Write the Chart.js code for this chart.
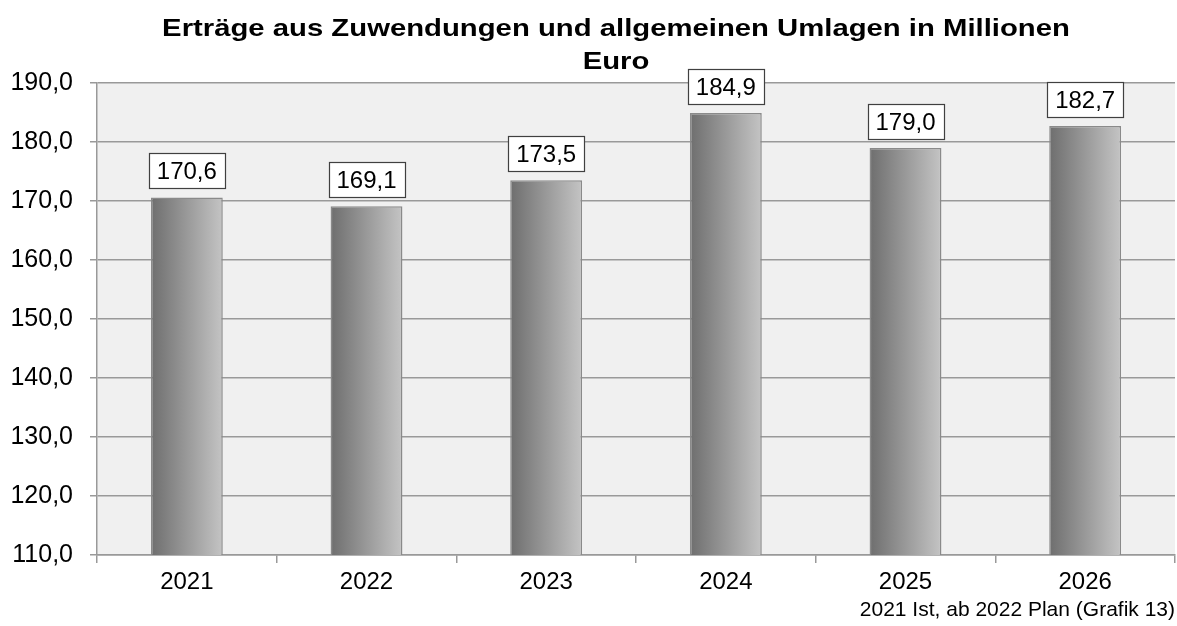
<!DOCTYPE html>
<html>
<head>
<meta charset="utf-8">
<script src="https://cdn.jsdelivr.net/npm/chart.js@4.4.1/dist/chart.umd.min.js"></script>
<style>
  html, body { margin: 0; padding: 0; background: #ffffff; }
  #wrap { width: 1177px; height: 626px; position: relative; }
</style>
</head>
<body>
<div id="wrap"><canvas id="c" width="1177" height="626"></canvas></div>
<script>
const categories = ['2021', '2022', '2023', '2024', '2025', '2026'];
const values = [170.6, 169.1, 173.5, 184.9, 179.0, 182.7];
const titleLines = ['Erträge aus Zuwendungen und allgemeinen Umlagen in Millionen', 'Euro'];
const footnote = '2021 Ist, ab 2022 Plan (Grafik 13)';
const yMin = 110, yMax = 190, yStep = 10;

const FONT = '"Liberation Sans", Arial, sans-serif';
const fmt = v => v.toFixed(1).replace('.', ',');

const bgPlugin = {
  id: 'plotBg',
  beforeDraw(chart) {
    const a = chart.chartArea, ctx = chart.ctx;
    ctx.save();
    ctx.fillStyle = '#f0f0f0';
    ctx.fillRect(a.left, a.top, a.right - a.left, a.bottom - a.top);
    ctx.restore();
  }
};

const titlePlugin = {
  id: 'customTitle',
  afterDraw(chart) {
    const ctx = chart.ctx;
    ctx.save();
    ctx.translate(616, 0);
    ctx.scale(1.22, 1);
    ctx.font = 'bold 24px ' + FONT;
    ctx.fillStyle = '#000';
    ctx.textAlign = 'center';
    ctx.textBaseline = 'alphabetic';
    ctx.fillText(titleLines[0], 0, 36);
    ctx.fillText(titleLines[1], 0, 69);
    ctx.restore();
  }
};

const labelPlugin = {
  id: 'valueBoxes',
  afterDatasetsDraw(chart) {
    const ctx = chart.ctx;
    const meta = chart.getDatasetMeta(0);
    ctx.save();
    ctx.font = '24px ' + FONT;
    ctx.textAlign = 'center';
    ctx.textBaseline = 'middle';
    meta.data.forEach((bar, i) => {
      const txt = fmt(values[i]);
      const w = 76;
      const h = 35;
      const bottom = bar.y - 9;
      const x0 = Math.round(bar.x - w / 2) + 0.5, y0 = Math.round(bottom - h) + 0.5;
      ctx.fillStyle = '#ffffff';
      ctx.fillRect(x0, y0, w, h);
      ctx.strokeStyle = '#404040';
      ctx.lineWidth = 1.2;
      ctx.strokeRect(x0, y0, w, h);
      ctx.fillStyle = '#000';
      ctx.fillText(txt, bar.x, y0 + h / 2 + 1);
    });
    ctx.restore();
  }
};

function barGradient(context) {
  const chart = context.chart;
  const xs = chart.scales && chart.scales.x;
  if (!chart.chartArea || !xs) return '#999';
  const cx = xs.getPixelForValue(context.dataIndex);
  const half = (chart.chartArea.right - chart.chartArea.left) / categories.length * 0.4 / 2;
  const g = chart.ctx.createLinearGradient(cx - half, 0, cx + half, 0);
  g.addColorStop(0, '#6e6e6e');
  g.addColorStop(1, '#c4c4c4');
  return g;
}

new Chart(document.getElementById('c'), {
  type: 'bar',
  data: {
    labels: categories,
    datasets: [{
      data: values,
      backgroundColor: barGradient,
      borderColor: '#8a8a8a',
      borderWidth: 1.5,
      borderSkipped: false,
      categoryPercentage: 1.0,
      barPercentage: 0.4
    }]
  },
  options: {
    responsive: false,
    animation: false,
    devicePixelRatio: 1,
    layout: { padding: { top: 83, left: 6, right: 2, bottom: 0 } },
    plugins: {
      legend: { display: false },
      title: { display: false },
      tooltip: { enabled: false }
    },
    scales: {
      x: {
        offset: true,
        afterFit(s) { s.height = 71; },
        grid: {
          offset: true,
          drawOnChartArea: false,
          drawTicks: true,
          tickLength: 8,
          color: '#999999',
          lineWidth: 1.5
        },
        border: { display: true, color: '#999999', width: 1.5 },
        ticks: { color: '#000', font: { family: FONT, size: 24 }, padding: 5 },
        title: {
          display: true,
          text: footnote,
          align: 'end',
          color: '#000',
          font: { family: FONT, size: 21 },
          padding: { top: 0, bottom: 3 }
        }
      },
      y: {
        min: yMin,
        max: yMax,
        afterFit(s) { s.width = 91; },
        ticks: {
          stepSize: yStep,
          color: '#000',
          font: { family: FONT, size: 25 },
          padding: 17,
          callback: v => fmt(v)
        },
        grid: {
          color: '#999999',
          lineWidth: 1.5,
          tickLength: 7,
          drawTicks: true
        },
        border: { display: true, color: '#999999', width: 1.5 }
      }
    }
  },
  plugins: [bgPlugin, labelPlugin, titlePlugin]
});
</script>
</body>
</html>
